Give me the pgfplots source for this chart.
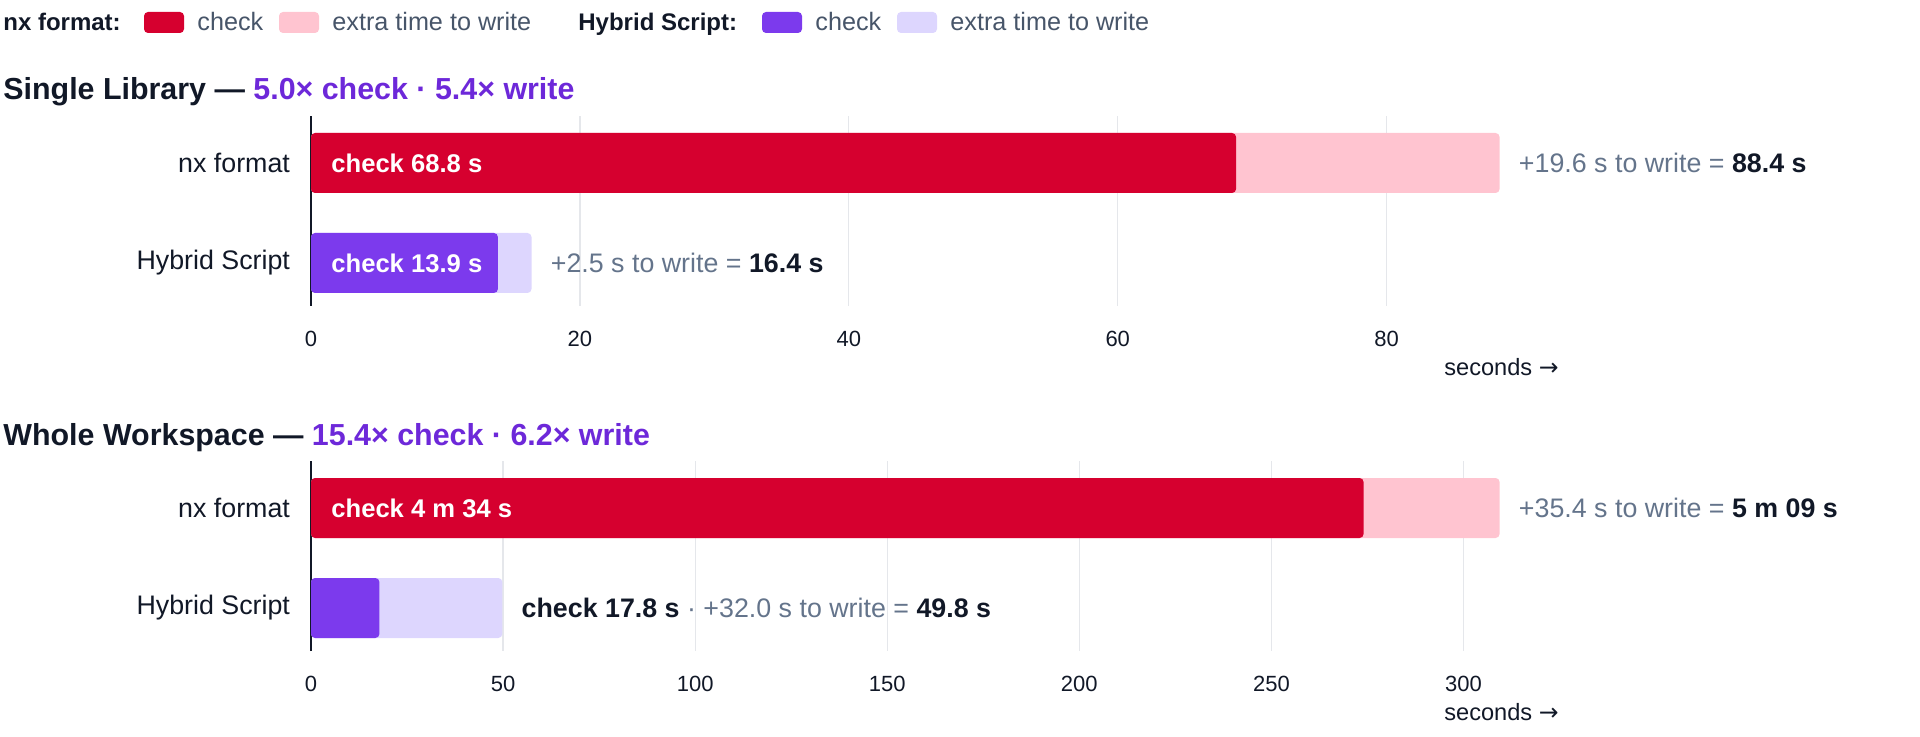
\documentclass[border=0pt]{standalone}
\usepackage{fontspec}
\setmainfont{Liberation Sans}
\newfontfamily\symfont{DejaVu Sans}
\usepackage{pgfplots}
\pgfplotsset{compat=1.18}

\definecolor{nxcheck}{HTML}{D6002F}
\definecolor{nxwrite}{HTML}{FFC4D0}
\definecolor{hycheck}{HTML}{7C3AED}
\definecolor{hywrite}{HTML}{DDD6FE}
\definecolor{titlepurple}{HTML}{6D28D9}
\definecolor{ink}{HTML}{111827}
\definecolor{muted}{HTML}{64748B}
\definecolor{legendtext}{HTML}{475569}
\definecolor{gridc}{HTML}{E5E7EB}

\newcommand\lab{\fontsize{13.4}{15}\selectfont}
\newcommand\inbar{\bfseries\fontsize{12.8}{15}\selectfont}
\newcommand\ttl{\bfseries\fontsize{15.2}{17}\selectfont}
\newcommand\leg{\fontsize{12.6}{14}\selectfont}
\newcommand\legb{\bfseries\fontsize{12}{14}\selectfont}

\pgfplotsset{
  timebar/.style={
    scale only axis, width=624pt, height=95pt,
    xmin=0, ymin=-0.43, ymax=1.47,
    axis lines*=left,
    x axis line style={draw=none},
    y axis line style={draw=ink, line width=0.7pt},
    major tick length=0pt,
    xmajorgrids, grid style={gridc, line width=0.6pt},
    ytick={0,1}, yticklabels={Hybrid Script, nx format},
    yticklabel style={font=\lab, text=ink, anchor=east, xshift=-7pt},
    xticklabel style={font=\fontsize{11}{13}\selectfont, text=ink, anchor=center, yshift=-16.5pt},
    /pgf/number format/assume math mode=true,
    clip=false,
  },
  seg/.style={xbar, bar width=30pt, bar shift=0pt, draw=none, fill=#1, rounded corners=2pt},
}

\begin{document}
\begin{tikzpicture}
\path[use as bounding box] (0,0) rectangle (960pt,-368.5pt);

% legend
\node[anchor=base west, inner sep=0, text=ink, font=\legb] at (1.5pt,-15.3pt) {nx format:};
\fill[nxcheck, rounded corners=2pt] (72pt,-6pt) rectangle (92pt,-16.5pt);
\node[anchor=base west, inner sep=0, text=legendtext, font=\leg] at (98.5pt,-15.3pt) {check};
\fill[nxwrite, rounded corners=2pt] (139.5pt,-6pt) rectangle (159.5pt,-16.5pt);
\node[anchor=base west, inner sep=0, text=legendtext, font=\leg] at (166pt,-15.3pt) {extra time to write};
\node[anchor=base west, inner sep=0, text=ink, font=\legb] at (289pt,-15.3pt) {Hybrid Script:};
\fill[hycheck, rounded corners=2pt] (381pt,-6pt) rectangle (401pt,-16.5pt);
\node[anchor=base west, inner sep=0, text=legendtext, font=\leg] at (407.5pt,-15.3pt) {check};
\fill[hywrite, rounded corners=2pt] (448.5pt,-6pt) rectangle (468.5pt,-16.5pt);
\node[anchor=base west, inner sep=0, text=legendtext, font=\leg] at (475pt,-15.3pt) {extra time to write};

% titles
\node[anchor=base west, inner sep=0, font=\ttl] at (1.5pt,-50pt)
  {\textcolor{ink}{Single Library —} \textcolor{titlepurple}{5.0× check · 5.4× write}};
\node[anchor=base west, inner sep=0, font=\ttl] at (1.5pt,-222.5pt)
  {\textcolor{ink}{Whole Workspace —} \textcolor{titlepurple}{15.4× check · 6.2× write}};

% single library
\begin{axis}[timebar, at={(155.5pt,-153pt)}, anchor=south west,
  xmax=92.82, xtick={0,20,40,60,80}]
\addplot[seg=nxwrite] coordinates {(88.4,1)};
\addplot[seg=hywrite] coordinates {(16.4,0)};
\addplot[seg=nxcheck] coordinates {(68.8,1)};
\addplot[seg=hycheck] coordinates {(13.9,0)};
\node[anchor=west, inner sep=0, xshift=10pt, text=white, font=\inbar] at (axis cs:0,1) {check 68.8 s};
\node[anchor=west, inner sep=0, xshift=10pt, text=white, font=\inbar] at (axis cs:0,0) {check 13.9 s};
\node[anchor=west, inner sep=0, xshift=9.5pt, text=muted, font=\lab] at (axis cs:88.4,1)
  {+19.6 s to write = \textcolor{ink}{\bfseries 88.4 s}};
\node[anchor=west, inner sep=0, xshift=9.5pt, text=muted, font=\lab] at (axis cs:16.4,0)
  {+2.5 s to write = \textcolor{ink}{\bfseries 16.4 s}};
\node[anchor=east, inner sep=0, text=ink, font=\fontsize{11.8}{13}\selectfont, yshift=-30.5pt]
  at (rel axis cs:1,0) {seconds {\symfont →}};
\end{axis}

% whole workspace
\begin{axis}[timebar, at={(155.5pt,-325.5pt)}, anchor=south west,
  xmax=324.87, xtick={0,50,100,150,200,250,300}]
\addplot[seg=nxwrite] coordinates {(309.4,1)};
\addplot[seg=hywrite] coordinates {(49.8,0)};
\addplot[seg=nxcheck] coordinates {(274,1)};
\addplot[seg=hycheck] coordinates {(17.8,0)};
\node[anchor=west, inner sep=0, xshift=10pt, text=white, font=\inbar] at (axis cs:0,1) {check 4 m 34 s};
\node[anchor=west, inner sep=0, xshift=9.5pt, text=muted, font=\lab] at (axis cs:309.4,1)
  {+35.4 s to write = \textcolor{ink}{\bfseries 5 m 09 s}};
\node[anchor=west, inner sep=0, xshift=9.5pt, text=muted, font=\lab] at (axis cs:49.8,0)
  {\textcolor{ink}{\bfseries check 17.8 s} · +32.0 s to write = \textcolor{ink}{\bfseries 49.8 s}};
\node[anchor=east, inner sep=0, text=ink, font=\fontsize{11.8}{13}\selectfont, yshift=-30.5pt]
  at (rel axis cs:1,0) {seconds {\symfont →}};
\end{axis}
\end{tikzpicture}
\end{document}
